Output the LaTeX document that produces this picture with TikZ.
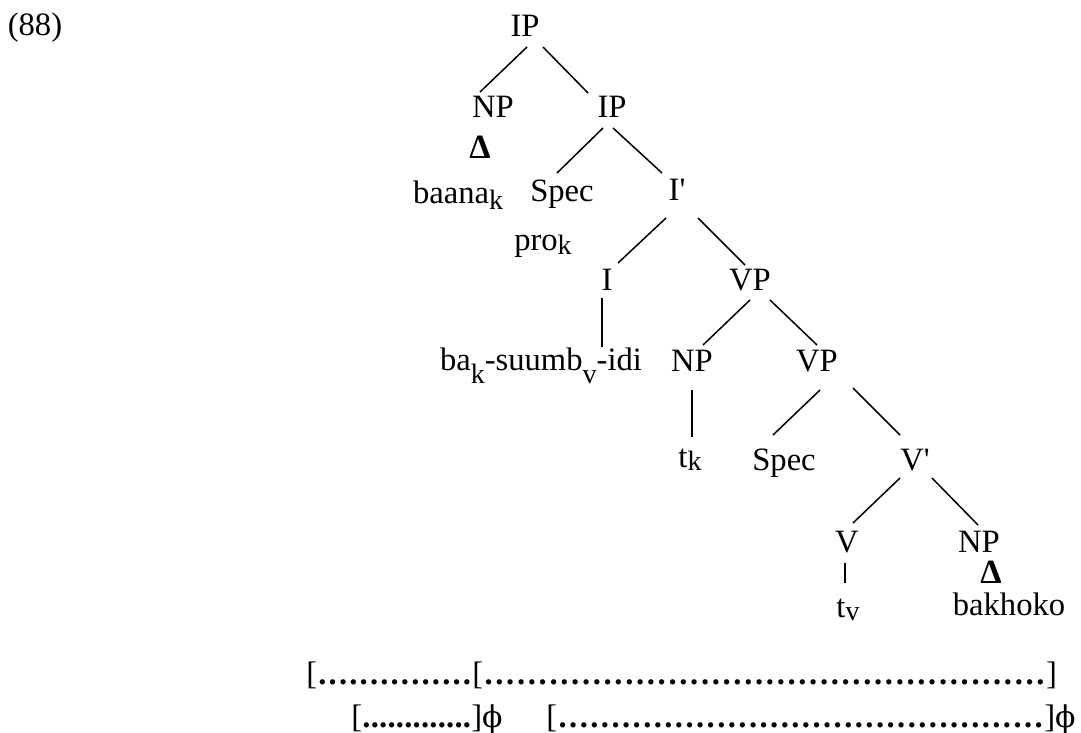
\documentclass[tikz,border=0pt]{standalone}
\usepackage{fontspec}
\setmainfont{Liberation Serif}
\newfontfamily\greekfont{DejaVu Serif}
% lowered index letter, e.g. ba_k
\newcommand\ix[2][0.3em]{\raisebox{-#1}{\fontsize{14}{15}\selectfont #2}}
% a run of evenly spaced dots: total width, dot pitch
\newcommand\dotrun[2]{\hbox to #1{\cleaders\hbox to #2{\hss\bfseries.\hss}\hfill}}
\newcommand\pr{\textquotesingle}
\newcommand\nul{{\greekfont\fontsize{15}{16}\selectfont ϕ}}

\begin{document}
\begin{tikzpicture}[x=0.5pt,y=-0.5pt,
  lab/.style={inner sep=0pt, anchor=base, font=\fontsize{16.3}{18}\selectfont},
  tri/.style={inner sep=0pt, anchor=base, font=\fontsize{17}{18}\selectfont\bfseries},
  branch/.style={line width=0.75pt},
  row/.style={inner sep=0pt, anchor=base west, font=\fontsize{16.3}{18}\selectfont}]
\useasboundingbox (0,0) rectangle (1081,733);

% example number
\node[lab] (ex) at (35,36) {(88)};

% tree labels
\node[lab] (ip1)    at (525,37)  {IP};
\node[lab] (np1)    at (493,118) {NP};
\node[lab] (ip2)    at (612,118) {IP};
\node[tri] (d1)     at (480,158) {Δ};
\node[lab] (baanak) at (458,203) {baana\ix[0.2em]{k}};
\node[lab] (spec1)  at (562,201) {Spec};
\node[lab] (ib)     at (677,200) {I\pr};
\node[lab] (pro)    at (543,250) {pro\ix[0.15em]{k}};
\node[lab] (i1)     at (607,290) {I};
\node[lab] (vp1)    at (750,290) {VP};
\node[lab] (verb)   at (541,370) {ba\ix[0.4em]{k}-suumb\ix[0.4em]{v}-idi};
\node[lab] (np2)    at (692,371) {NP};
\node[lab] (vp2)    at (817,371) {VP};
\node[lab] (tk)     at (690,467) {t\ix[0.12em]{k}};
\node[lab] (spec2)  at (784,470) {Spec};
\node[lab] (vb)     at (915,470) {V\pr};
\node[lab] (v)      at (847,552) {V};
\node[lab] (np3)    at (979,552) {NP};
\node[tri] (d2)     at (991,583) {Δ};
\node[lab] (tv)     at (848,617) {t\ix[0.1em]{v}};
\node[lab] (bakh)   at (1009,615) {bakhoko};

% branches
\draw[branch] ([shift={(2,10)}]ip1.base)    -- ([shift={(-13,-26)}]np1.base);
\draw[branch] ([shift={(18,10)}]ip1.base)   -- ([shift={(-24,-25)}]ip2.base);
\draw[branch] ([shift={(-9,10)}]ip2.base)   -- ([shift={(-5,-28)}]spec1.base);
\draw[branch] ([shift={(1,10)}]ip2.base)    -- ([shift={(-15,-27)}]ib.base);
\draw[branch] ([shift={(-11,18)}]ib.base)   -- ([shift={(11,-27)}]i1.base);
\draw[branch] ([shift={(21,18)}]ib.base)    -- ([shift={(-5,-25)}]vp1.base);
\draw[branch] ([shift={(-5,8)}]i1.base)     -- ([shift={(61,-23)}]verb.base);
\draw[branch] ([shift={(0,10)}]vp1.base)    -- ([shift={(11,-26)}]np2.base);
\draw[branch] ([shift={(20,10)}]vp1.base)   -- ([shift={(0,-26)}]vp2.base);
\draw[branch] ([shift={(0,19)}]np2.base)    -- ([shift={(2,-30)}]tk.base);
\draw[branch] ([shift={(3,19)}]vp2.base)    -- ([shift={(-11,-35)}]spec2.base);
\draw[branch] ([shift={(36,17)}]vp2.base)   -- ([shift={(-15,-35)}]vb.base);
\draw[branch] ([shift={(-15,8)}]vb.base)    -- ([shift={(6,-29)}]v.base);
\draw[branch] ([shift={(17,8)}]vb.base)     -- ([shift={(-1,-27)}]np3.base);
\draw[branch] ([shift={(-2,11)}]v.base)     -- ([shift={(-3,-34)}]tv.base);

% bracketed domains
\node[row] (dom1) at (306,684)
  {[\dotrun{77.5pt}{5.16pt}[\dotrun{281.5pt}{5.41pt}]};
\node[row] (dom2) at (351,727)
  {[\dotrun{54.5pt}{4.19pt}]\nul};
\node[row] (dom3) at (546,727)
  {[\dotrun{243.5pt}{5.29pt}]\nul};
\end{tikzpicture}
\end{document}
